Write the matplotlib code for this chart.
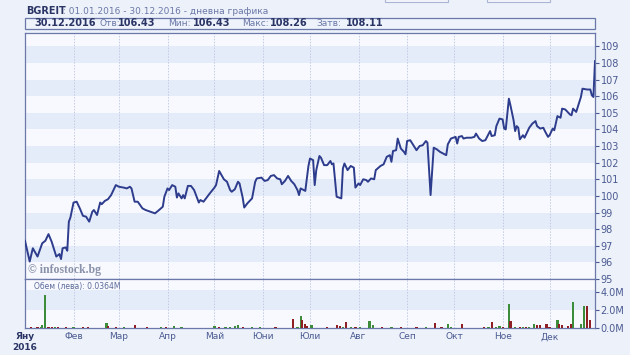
import numpy as np
import matplotlib
matplotlib.use("Agg")
import matplotlib.pyplot as plt
from matplotlib.patches import Rectangle

# price: day of year (0 = 01.01.2016) and close
price_days = [0, 3, 5, 8, 11, 13, 15, 17, 20, 22, 23, 24, 26, 27, 28, 29, 31, 33, 35, 37,
              39, 41, 43, 44, 46, 48, 49, 51, 53, 55, 58, 60, 63, 65, 67, 68, 70, 72, 75, 77,
              80, 83, 85, 88, 89, 91, 92, 94, 96, 97, 98, 100, 101, 102, 104, 106, 108, 111, 112, 114,
              116, 118, 121, 122, 124, 127, 129, 131, 132, 134, 136, 137, 139, 140, 142, 145, 147, 148, 151, 153,
              155, 157, 159, 161, 163, 164, 166, 168, 170, 172, 174, 175, 176, 178, 179, 181, 182, 184, 185, 186,
              188, 189, 191, 193, 195, 196, 197, 199, 202, 203, 204, 206, 208, 210, 211, 213, 214, 216, 218, 219,
              221, 223, 224, 227, 229, 231, 233, 234, 235, 237, 238, 240, 242, 243, 244, 246, 248, 250, 252, 254,
              256, 257, 259, 261, 263, 265, 267, 269, 270, 272, 275, 276, 277, 279, 280, 282, 285, 287, 288, 290,
              292, 294, 297, 298, 300, 301, 303, 305, 306, 307, 309, 310, 312, 313, 314, 315, 316, 318, 319, 322,
              324, 326, 327, 329, 331, 332, 334, 335, 337, 338, 340, 342, 343, 345, 348, 349, 350, 352, 354, 355,
              356, 359, 361, 362, 363, 364]
price = [97.3, 96.05, 96.85, 96.35, 97.15, 97.3, 97.7, 97.25, 96.35, 96.5, 96.2, 96.85, 96.9, 96.7, 98.45, 98.7, 99.6, 99.65, 99.25, 98.8,
         98.75, 98.45, 99.05, 99.15, 98.85, 99.6, 99.5, 99.7, 99.8, 100.05, 100.65, 100.55, 100.5, 100.45, 100.55, 100.45, 99.65, 99.65, 99.25, 99.15,
         99.05, 98.95, 99.1, 99.35, 99.95, 100.45, 100.35, 100.65, 100.55, 99.9, 100.15, 99.85, 100.05, 99.85, 100.6, 100.6, 100.35, 99.6, 99.75, 99.65,
         99.9, 100.15, 100.5, 100.65, 101.5, 101.0, 100.85, 100.35, 100.25, 100.4, 100.85, 100.75, 99.9, 99.3, 99.55, 99.85, 100.85, 101.05, 101.1, 100.9,
         100.95, 101.2, 101.25, 101.05, 101.0, 100.7, 100.9, 101.2, 100.9, 100.7, 100.35, 100.05, 100.45, 100.35, 100.3, 101.8, 102.25, 102.15, 100.65, 101.55,
         102.4, 102.3, 101.85, 101.85, 102.1, 101.9, 101.95, 99.95, 99.85, 101.65, 101.95, 101.55, 101.8, 101.7, 100.5, 100.75, 100.65, 101.0, 100.95, 100.85,
         101.05, 101.0, 101.55, 101.8, 101.9, 102.35, 102.45, 102.05, 102.7, 102.75, 103.45, 102.85, 102.65, 102.5, 103.3, 103.35, 103.05, 102.75, 103.0, 103.05,
         103.3, 103.2, 100.05, 102.9, 102.8, 102.65, 102.55, 102.45, 103.1, 103.45, 103.55, 103.15, 103.55, 103.6, 103.45, 103.5, 103.5, 103.55, 103.75, 103.45,
         103.3, 103.35, 103.9, 103.6, 103.65, 104.2, 104.65, 104.6, 104.05, 104.0, 105.85, 105.45, 104.55, 103.9, 104.2, 104.1, 103.4, 103.65, 103.5, 104.1,
         104.35, 104.5, 104.2, 104.05, 104.1, 103.9, 103.55, 103.65, 104.05, 103.95, 104.8, 104.7, 105.25, 105.2, 104.9, 104.85, 105.25, 105.05, 105.65, 105.95,
         106.45, 106.4, 106.4, 106.05, 105.95, 108.11]

# volume (million leva), day of year, up (g) / down (r)
vol_days = [4, 8, 10, 11, 13, 15, 17, 19, 21, 26, 31, 37, 40, 52, 53, 58, 63, 70, 78, 87,
            90, 95, 100, 121, 124, 128, 131, 134, 136, 139, 145, 150, 160, 171, 174, 176, 177, 179, 180, 183,
            193, 199, 201, 203, 205, 208, 211, 214, 220, 222, 228, 234, 240, 250, 256, 262, 266, 270, 272, 279,
            293, 296, 298, 301, 303, 305, 309, 310, 313, 316, 318, 320, 322, 325, 327, 329, 333, 335, 340, 341,
            343, 347, 349, 350, 355, 357, 359, 361]
volume = [0.08, 0.06, 0.15, 0.3, 3.65, 0.1, 0.08, 0.1, 0.08, 0.1, 0.1, 0.12, 0.1, 0.6, 0.25, 0.08, 0.1, 0.3, 0.1, 0.08,
          0.1, 0.2, 0.08, 0.22, 0.1, 0.08, 0.15, 0.2, 0.35, 0.12, 0.15, 0.15, 0.08, 1.0, 0.15, 1.35, 0.9, 0.5, 0.2, 0.35,
          0.1, 0.35, 0.2, 0.1, 0.68, 0.1, 0.1, 0.12, 0.78, 0.3, 0.08, 0.08, 0.08, 0.1, 0.1, 0.52, 0.1, 0.45, 0.15, 0.45,
          0.08, 0.1, 0.7, 0.15, 0.2, 0.15, 2.67, 0.78, 0.1, 0.1, 0.1, 0.15, 0.15, 0.5, 0.3, 0.3, 0.4, 0.15, 0.9, 0.4,
          0.3, 0.2, 0.5, 2.9, 0.5, 2.45, 2.4, 0.9]
vol_dir = ['r', 'r', 'g', 'g', 'g', 'r', 'r', 'g', 'r', 'r', 'g', 'r', 'r', 'g', 'r', 'r', 'g', 'r', 'r', 'g',
           'r', 'g', 'g', 'g', 'r', 'g', 'g', 'g', 'g', 'r', 'g', 'g', 'r', 'r', 'g', 'g', 'r', 'r', 'r', 'g',
           'r', 'r', 'r', 'g', 'r', 'g', 'r', 'g', 'g', 'g', 'r', 'g', 'r', 'r', 'g', 'r', 'r', 'g', 'g', 'r',
           'r', 'g', 'r', 'g', 'g', 'r', 'g', 'r', 'g', 'r', 'g', 'r', 'g', 'g', 'r', 'r', 'r', 'r', 'g', 'r',
           'r', 'r', 'r', 'g', 'g', 'g', 'r', 'r']

months = ['Яну', 'Фев', 'Мар', 'Апр', 'Май', 'Юни', 'Юли', 'Авг', 'Сеп', 'Окт', 'Ное', 'Дек']
price_ticks = list(range(95, 110))
vol_ticks = [0, 2, 4]

start = np.datetime64('2016-01-01')
px_dates = start + np.array(price_days).astype('timedelta64[D]')
v_dates = start + np.array(vol_days).astype('timedelta64[D]')
month_starts = np.arange('2016-01', '2017-01', dtype='datetime64[M]').astype('datetime64[D]')
x0, x1 = start, np.datetime64('2016-12-30')

navy = '#2d3c8c'
lbl = '#4a5a92'
frame = '#6a78aa'

fig = plt.figure(figsize=(6.3, 3.55), dpi=100)
fig.patch.set_facecolor('#edf1f9')

ax = fig.add_axes([25/630, 1 - 279/355, 570/630, 246/355])
axv = fig.add_axes([25/630, 1 - 328/355, 570/630, 49/355])

# price panel
ax.set_facecolor('#f8f9fe')
for lo in range(96, 110, 2):
    ax.axhspan(lo, lo + 1, color='#e5ecf9', lw=0, zorder=0)
for m in month_starts[1:]:
    ax.axvline(m, color='#c3cbe2', lw=0.7, ls=(0, (1.5, 1.5)), zorder=1)
ax.plot(px_dates, price, color=navy, lw=1.4, zorder=3)
ax.set_xlim(x0, x1)
ax.set_ylim(95, 109.8)
ax.yaxis.tick_right()
ax.set_yticks(price_ticks)
ax.tick_params(axis='y', labelsize=7, colors=lbl, length=3, pad=1, width=0.8)
ax.set_xticks([])
for s in ax.spines.values():
    s.set_color(frame)
    s.set_linewidth(0.9)
ax.text(0.006, 0.025, '© infostock.bg', transform=ax.transAxes, fontsize=8.5,
        family='Liberation Serif', fontweight='bold', color='#8a92aa', zorder=4)

# volume panel
axv.set_facecolor('#f8f9fe')
axv.axhspan(2, 4.2, color='#e5ecf9', lw=0, zorder=0)
for m in month_starts[1:]:
    axv.axvline(m, color='#c3cbe2', lw=0.7, ls=(0, (1.5, 1.5)), zorder=1)
cols = ['#3d8c3a' if d == 'g' else '#8e1f24' for d in vol_dir]
axv.bar(v_dates, volume, width=1.4, color=cols, zorder=3)
axv.set_xlim(x0, x1)
axv.set_ylim(0, 5.45)
axv.yaxis.tick_right()
axv.set_yticks(vol_ticks)
axv.set_yticklabels([f'{v:.1f}M' for v in vol_ticks])
axv.tick_params(axis='y', labelsize=7, colors=lbl, length=3, pad=1, width=0.8)
axv.set_xticks(month_starts)
axv.set_xticklabels(['Яну\n2016'] + months[1:])
axv.tick_params(axis='x', labelsize=6.5, colors=lbl, length=0, pad=3)
first = axv.get_xticklabels()[0]
first.set_fontweight('bold')
first.set_color('#2a3566')
for s in axv.spines.values():
    s.set_color(frame)
    s.set_linewidth(0.9)
axv.text(0.016, 0.93, 'Обем (лева): 0.0364M', transform=axv.transAxes, fontsize=5.5,
         color='#5a6a9a', va='top')

# header
fig.text(26/630, 1 - 11/355, 'BGREIT', fontsize=7, fontweight='bold', color='#2a3566', va='center')
fig.text(63/630, 1 - 11/355, ': 01.01.2016 - 30.12.2016 - дневна графика', fontsize=6.5,
         color='#6a78a8', va='center')
fig.patches.append(Rectangle((25/630, 1 - 29/355), 570/630, 11/355, transform=fig.transFigure,
                             facecolor='#eef2fb', edgecolor=frame, lw=0.9))
parts = [('30.12.2016', True, 34), ('Отв:', False, 99), ('106.43', True, 118),
         ('Мин:', False, 168), ('106.43', True, 193), ('Макс:', False, 242),
         ('108.26', True, 270), ('Затв:', False, 316), ('108.11', True, 346)]
for txt, bold, xp in parts:
    fig.text(xp/630, 1 - 23.5/355, txt, fontsize=7 if bold else 6.5,
             fontweight='bold' if bold else 'normal',
             color='#2a3566' if bold else '#6a78a8', va='center')
for tx in (385, 487):
    fig.patches.append(Rectangle((tx/630, 1 - 2/355), 63/630, 3/355, transform=fig.transFigure,
                                 facecolor='#f4f6fc', edgecolor='#aab4d4', lw=0.8))

fig.savefig('out.png', dpi=100, facecolor=fig.get_facecolor())
